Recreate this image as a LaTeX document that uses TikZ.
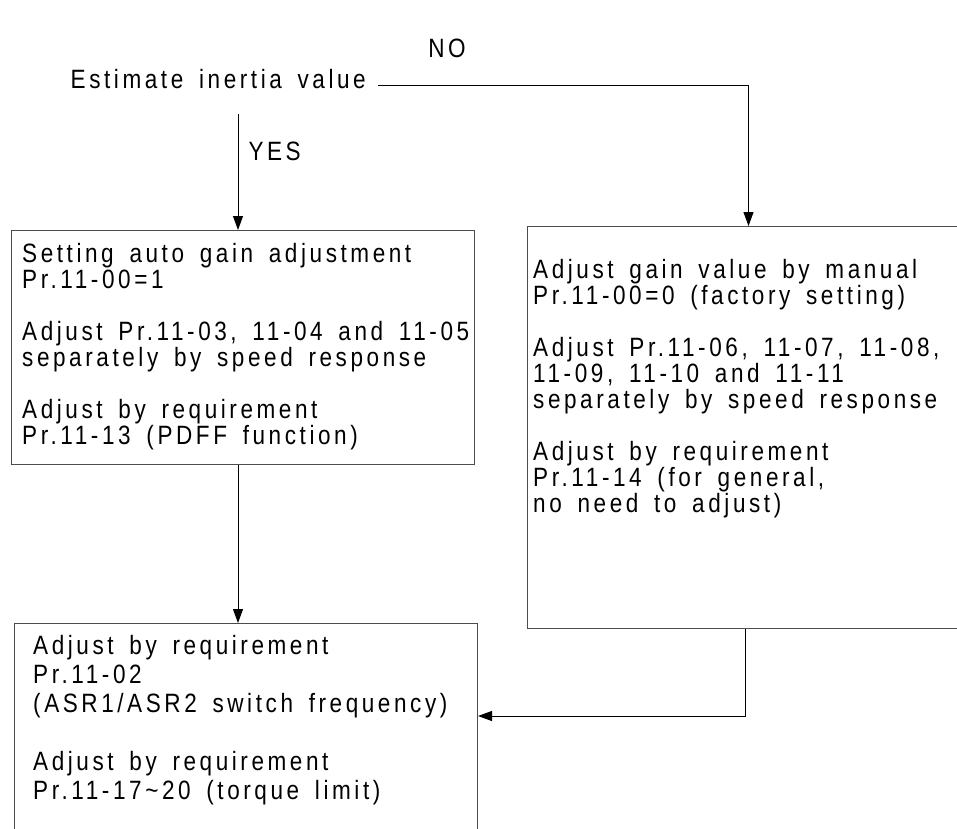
\documentclass[tikz,border=0pt]{standalone}
\usepackage{fontspec}
\setmainfont{Liberation Sans}[FakeStretch=0.85,LetterSpace=13.5,WordSpace=1.6]
\usetikzlibrary{positioning,arrows.meta}

\begin{document}
\begin{tikzpicture}[
    x=1pt, y=-1pt,
    font=\fontsize{26.5}{26}\selectfont,
    box/.style={draw=black!70, line width=1pt, anchor=north west, inner sep=0pt},
    txt/.style={anchor=north west, align=left, inner sep=0pt},
    arrow/.style={-{Triangle[length=14pt,width=10pt]}, line width=1pt},
]
    \useasboundingbox (0,0) rectangle (957,828);

    % question
    \node[anchor=base east, inner sep=0pt] (est) at (366,88) {Estimate inertia value};
    \node[inner sep=0pt] (no) at (447,48) {NO};
    \coordinate (nostart) at (378,85);
    \coordinate (yestop) at (238,114);

    % auto gain
    \node[box, minimum width=463pt, minimum height=234pt] (auto) at (11,230) {};
    \node[txt] (autotxt) at (22,243) {
        Setting auto gain adjustment\\
        Pr.11-00=1\\[26pt]
        Adjust Pr.11-03, 11-04 and 11-05\\
        separately by speed response\\[26pt]
        Adjust by requirement\\
        Pr.11-13 (PDFF function)
    };

    % manual gain
    \node[box, minimum width=442pt, minimum height=402pt] (manual) at (527,226) {};
    \node[txt] (manualtxt) at (533,259) {
        Adjust gain value by manual\\
        Pr.11-00=0 (factory setting)\\[26pt]
        Adjust Pr.11-06, 11-07, 11-08,\\
        11-09, 11-10 and 11-11\\
        separately by speed response\\[26pt]
        Adjust by requirement\\
        Pr.11-14 (for general,\\
        no need to adjust)
    };

    % limits
    \node[box, minimum width=463pt, minimum height=240pt] (limit) at (14,623) {};
    \node[txt, font=\fontsize{26.5}{29}\selectfont] (limittxt) at (33,635) {
        Adjust by requirement\\
        Pr.11-02\\
        (ASR1/ASR2 switch frequency)\\[29pt]
        Adjust by requirement\\
        Pr.11-17\textasciitilde20 (torque limit)
    };

    % connectors
    \draw[arrow] (nostart) -| (manual.north);
    \draw[arrow] (yestop) -- node[right=10pt, inner sep=0pt, pos=0.32] {YES} (yestop |- auto.north);
    \draw[arrow] (yestop |- auto.south) -- (yestop |- limit.north);
    \coordinate (back) at (745,716);
    \draw[arrow] (manual.south -| back) |- (limit.east |- back);
\end{tikzpicture}
\end{document}
